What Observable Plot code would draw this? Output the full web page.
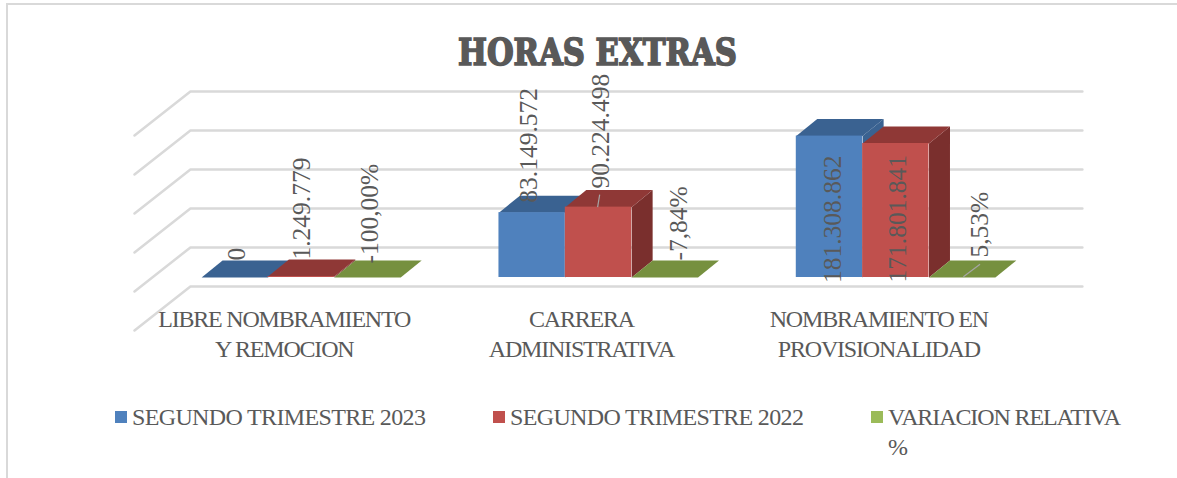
<!DOCTYPE html>
<html><head><meta charset="utf-8">
<script src="https://cdn.jsdelivr.net/npm/d3@7"></script>
<script src="https://cdn.jsdelivr.net/npm/@observablehq/plot@0.6"></script>
<style>
html,body{margin:0;padding:0;background:#fff}
#chart{position:relative;width:1177px;height:478px;overflow:hidden;font-family:"Liberation Serif",serif;color:#595959}
#edgeT{position:absolute;left:6px;top:3px;right:0;height:2px;background:#d9d9d9}
#edgeL{position:absolute;left:6px;top:3px;bottom:0;width:2px;background:#d9d9d9}
#title{position:absolute;left:458px;top:30px;font:bold 37px "DejaVu Serif Condensed","DejaVu Serif",serif;color:#595959;-webkit-text-stroke:1.6px #595959;white-space:nowrap;transform-origin:0 0;transform:scaleX(.92)}
svg{display:block;position:absolute;left:0;top:0}
#legend{position:absolute;left:0;top:400px;width:1177px;height:78px;font-size:24px}
.sw{position:absolute;width:12px;height:12px;top:11px}
.lt{position:absolute;top:2px;white-space:nowrap;line-height:30px}
</style></head><body>
<div id="chart"><div id="edgeT"></div><div id="edgeL"></div><div id="plot"></div>
<div id="title">HORAS EXTRAS</div><div id="legend"></div></div>
<script>
const categories = ["LIBRE NOMBRAMIENTO\nY REMOCION", "CARRERA\nADMINISTRATIVA", "NOMBRAMIENTO EN\nPROVISIONALIDAD"];
const seriesNames = ["SEGUNDO TRIMESTRE 2023", "SEGUNDO TRIMESTRE 2022", "VARIACION RELATIVA\n%"];
const trimestre2023 = [0, 83149572, 181308862];
const trimestre2022 = [1249779, 90224498, 171801841];
const variacion = [-1, -0.0784, 0.0553];
const label2023 = ["0", "83.149.572", "181.308.862"];
const label2022 = ["1.249.779", "90.224.498", "171.801.841"];
const labelVariacion = ["-100,00%", "-7,84%", "5,53%"];
const wallTicks = [-50e6, 0, 50e6, 100e6, 150e6, 200e6];

const frontColors = ["#4F81BD", "#C0504D", "#9BBB59"];
const topColors = ["#3A6291", "#8F3836", "#76903F"];
const sideColors = ["#3A6291", "#7A2F2D", "#76903F"];

// oblique projection constants, in scale units (slots, pesos)
const barW = 0.2232, depthX = 0.0705, depthY = 21.8e6;
const wallX = 0.1275, wallY = 38.5e6, floorX = 0.188, floorY = 56.4e6;

const series = [trimestre2023, trimestre2022, variacion];
const bars = series.flatMap((vals, s) => vals.map((v, c) => {
  const x1 = c + 0.5 + (s - 1.5) * barW;
  return {s, c, v, x1, x2: x1 + barW};
}));
const polys = bars.flatMap((b, i) => {
  const h = Math.max(b.v, 0);
  return [
    ...[[b.x2,0],[b.x2,h],[b.x2+depthX,h+depthY],[b.x2+depthX,depthY]].map(([x,y]) => ({id:`s${i}`, x, y, fill: sideColors[b.s]})),
    ...[[b.x1,h],[b.x2,h],[b.x2+depthX,h+depthY],[b.x1+depthX,h+depthY]].map(([x,y]) => ({id:`t${i}`, x, y, fill: topColors[b.s]}))
  ];
});
const grid = wallTicks.flatMap(t => [
  {t, x: wallX - floorX, y: t + wallY - floorY},
  {t, x: wallX, y: t + wallY},
  {t, x: 3 + wallX, y: t + wallY}
]);
const valueLabels = [label2023, label2022, labelVariacion].flatMap((texts, s) => texts.map((text, c) => ({text, s, c, v: Math.max(series[s][c], 0)})));
// pixel offsets of each label from its bar top, series by series
const nudges = [[1.7,-17],[-3,-10],[3,147],[1,-17],[2,-18.6],[2,139],[2,-14],[14,-17],[17.5,-20]];
const order = (d) => d.s * 3 + d.c;
const centers = (d) => d.c + 0.5 + (d.s - 1) * barW;
// leader lines for the labels the original moved off their bars
const leaders = [
  {x1: 1.5 - 0.003, y1: 90224498, x2: 1.5 + 0.004, y2: 90224498 + 16e6},
  {x1: 2.5 + barW + 0.004, y1: 0.0553 + 1e6, x2: 2.5 + barW + 0.06, y2: 0.0553 + 17e6}
];

const plot = Plot.plot({
  width: 1177, height: 400, margin: 0,
  x: {type:"linear", domain:[0,3], range:[152,1044], axis:null},
  y: {type:"linear", domain:[0,200e6], range:[277,121], axis:null},
  color: {type:"identity"},
  marks: [
    Plot.line(grid, {x:"x", y:"y", z:"t", stroke:"#D9D9D9", strokeWidth:2.5, curve:"linear"}),
    Plot.line(polys, {x:"x", y:"y", z:"id", fill:"fill", stroke:"none", curve:"linear"}),
    Plot.rect(bars, {x1:"x1", x2:"x2", y1:0, y2:d=>Math.max(d.v,0), fill:d=>frontColors[d.s]}),
    Plot.link(leaders, {x1:"x1", y1:"y1", x2:"x2", y2:"y2", stroke:"#A6A6A6", strokeWidth:1.2}),
    Plot.text(categories, {x:(d,i)=>i+0.5, y:0, text:d=>d, dx:-17, dy:28, lineHeight:1.25, textAnchor:"middle", lineAnchor:"top", fontSize:24, fill:"#595959", fontFamily:"Liberation Serif"}),
    ...valueLabels.map((d) => {
      const [dx,dy] = nudges[order(d)];
      return Plot.text([d], {x:centers, y:"v", text:"text", rotate:-90, dx, dy, textAnchor:"start", lineAnchor:"middle", fontSize:25.5, fill:"#595959", fontFamily:"Liberation Serif"});
    })
  ]
});
d3.select(plot).selectAll("text").filter(function(){return !/rotate/.test(this.getAttribute("transform")||"");}).style("letter-spacing","-1.2px");
document.getElementById("plot").append(plot);
const lg = document.getElementById("legend");
const lx = [115, 493, 871], tx = [132, 510, 888], ls = [-0.65, -0.65, -1.1];
seriesNames.forEach((n,i) => {
  lg.insertAdjacentHTML("beforeend", `<div class="sw" style="left:${lx[i]}px;background:${frontColors[i]}"></div><div class="lt" style="left:${tx[i]}px;letter-spacing:${ls[i]}px">${n.replace("\n","<br>")}</div>`);
});
</script></body></html>
